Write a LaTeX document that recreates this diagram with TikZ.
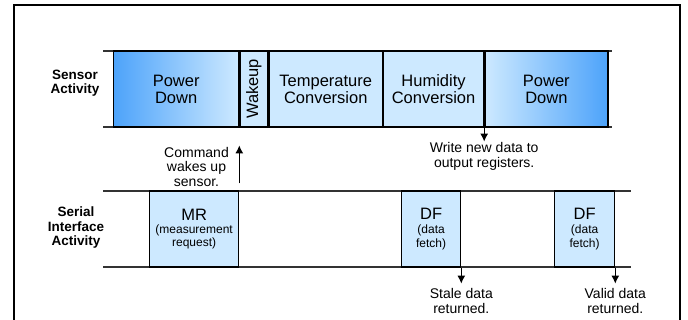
\documentclass[tikz,border=0pt]{standalone}
\usepackage{fontspec}
\setmainfont{Liberation Sans}
\usetikzlibrary{positioning,arrows.meta}
\definecolor{boxblue}{RGB}{205,233,255}
\definecolor{deepblue}{RGB}{77,163,250}
\newcommand{\subfont}{\fontsize{12}{13}\selectfont}
\tikzset{
  slot/.style={draw, line width=1.3pt, fill=boxblue, inner sep=0pt, minimum height=76pt,
    align=center, anchor=west, font=\fontsize{16.5}{17}\selectfont},
  rowname/.style={align=center, inner sep=0pt, font=\bfseries\fontsize{13.5}{14.5}\selectfont},
  note/.style={align=center, inner sep=1pt, font=\fontsize{14}{14.5}\selectfont},
  track/.style={line width=1.2pt, black!80},
  tip/.style={line width=1.3pt, -{Latex[length=8pt,width=8pt]}}
}
\begin{document}
\begin{tikzpicture}[x=1pt,y=-1pt]
    \useasboundingbox (0,0) rectangle (688,320);
    \draw[line width=2pt] (13.7,330) -- (13.7,5.3) -- (679.5,5.3) -- (679.5,330);
    \draw[track] (103,51) -- (612,51) (103,127) -- (612,127);
    \draw[track] (103,191) -- (631,191) (103,267) -- (631,267);
    % sensor activity
    \node[rowname] (sensor) at (75,83) {Sensor\\Activity};
    \node[slot, left color=deepblue, right color=boxblue, minimum width=125pt] (pd1) at (113,89) {Power\\Down};
    \node[slot, minimum width=28pt, right=0pt of pd1] (wk) {\rotatebox{90}{Wakeup}};
    \node[slot, minimum width=113pt, right=0pt of wk] (tc) {Temperature\\Conversion};
    \node[slot, minimum width=100pt, right=0pt of tc] (hc) {Humidity\\Conversion};
    \node[slot, left color=boxblue, right color=deepblue, minimum width=123pt, right=0pt of hc] (pd2) {Power\\Down};
    % serial interface activity
    \node[rowname] (serial) at (76,228) {Serial\\Interface\\Activity};
    \node[slot, minimum width=89pt] (mr) at (149,229) {MR\\[-4pt]\subfont(measurement\\[-4pt]\subfont request)};
    \node[slot, minimum width=59pt] (df1) at (401,229) {DF\\[-3pt]\subfont(data\\[-3pt]\subfont fetch)};
    \node[slot, minimum width=60pt] (df2) at (554,229) {DF\\[-3pt]\subfont(data\\[-3pt]\subfont fetch)};
    % events
    \coordinate[below=14pt of hc.south east] (wr);
    \draw[tip] (hc.south east) -- (wr);
    \node[note, anchor=north] (wrtxt) at (wr) {Write new data to\\output registers.};
    \coordinate[above=7pt of mr.north east] (cmdfoot);
    \coordinate[above=45pt of mr.north east] (cmdtip);
    \draw[tip] (cmdfoot) -- (cmdtip);
    \node[note, anchor=east] (cmdtxt) at (230,166.5) {Command\\wakes up\\sensor.};
    \coordinate[below=16pt of df1.south east] (stale);
    \draw[tip] (df1.south east) -- (stale);
    \node[note, below=4pt of stale] (staletxt) {Stale data\\returned.};
    \coordinate[below=16pt of df2.south east] (valid);
    \draw[tip] (df2.south east) -- (valid);
    \node[note, below=4pt of valid] (validtxt) {Valid data\\returned.};
\end{tikzpicture}
\end{document}
